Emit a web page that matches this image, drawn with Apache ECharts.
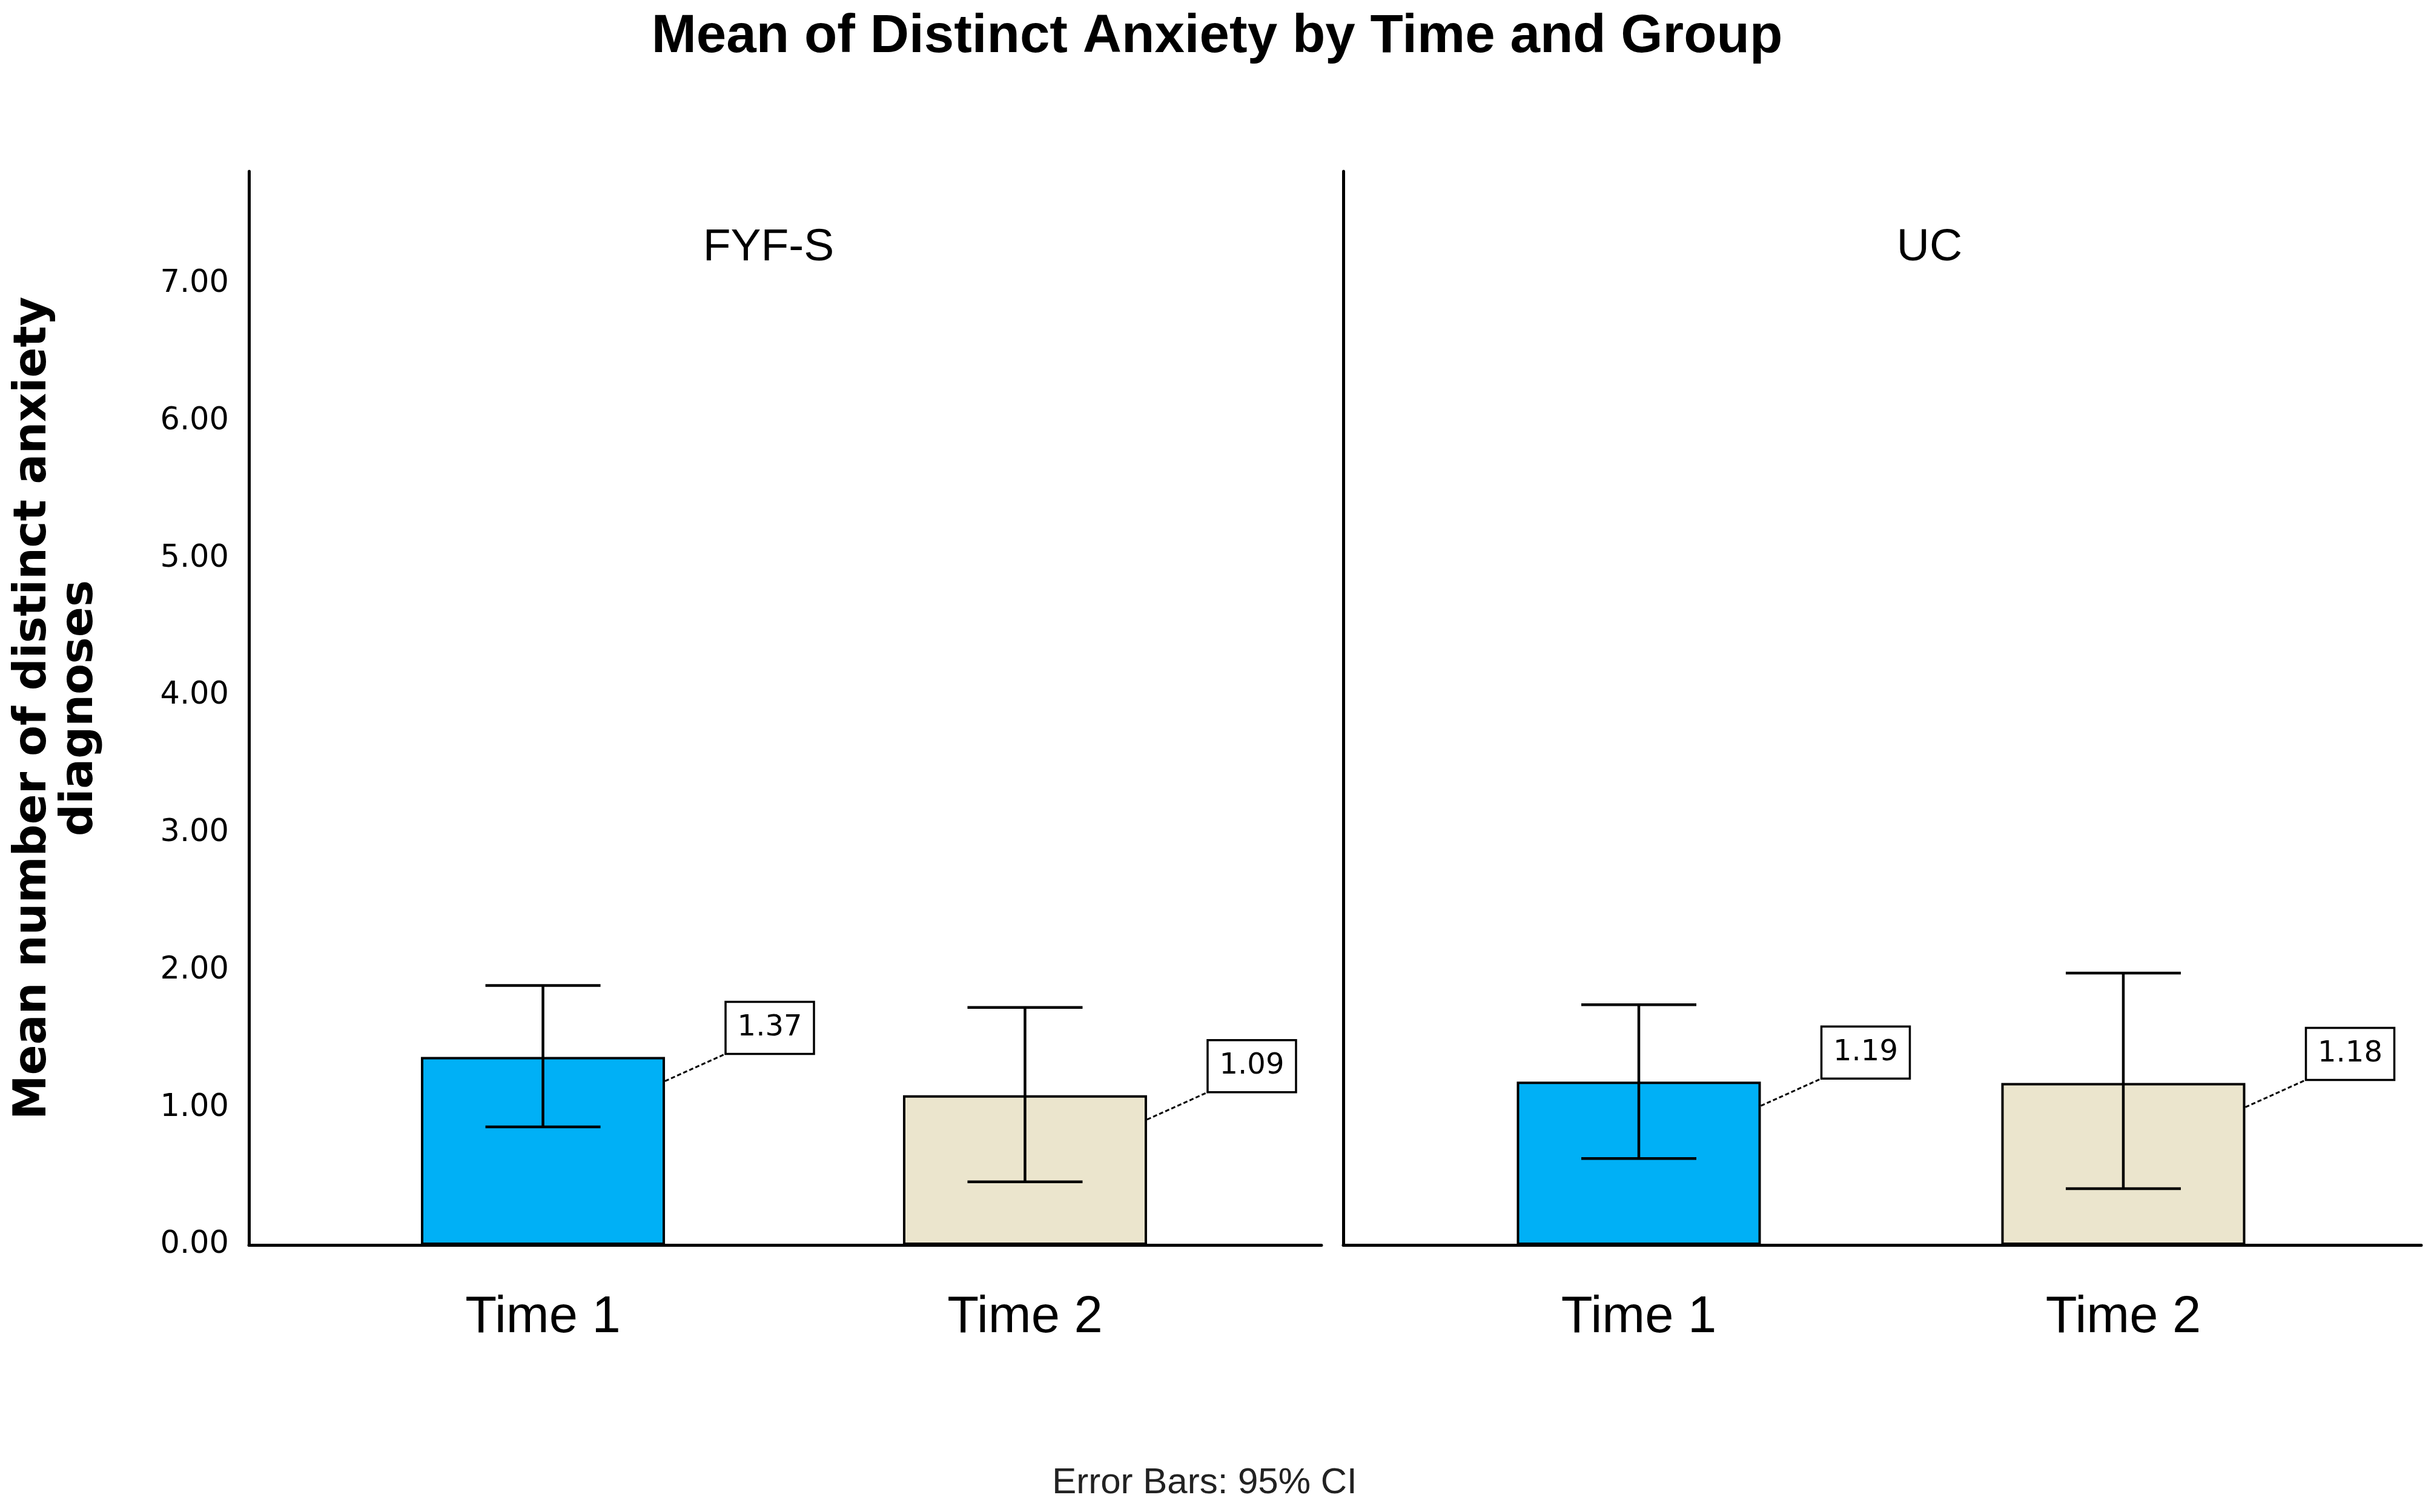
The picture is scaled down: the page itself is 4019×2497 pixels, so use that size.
<!DOCTYPE html>
<html>
<head>
<meta charset="utf-8">
<title>Mean of Distinct Anxiety by Time and Group</title>
<script src="https://cdn.jsdelivr.net/npm/echarts@6/dist/echarts.min.js"></script>
<style>
  html, body { margin: 0; padding: 0; background: #fff; }
  #chart { width: 4019px; height: 2497px; }
</style>
</head>
<body>
<div id="chart"></div>
<script>
// data
var times = ['Time 1', 'Time 2'];
var groups = ['FYF-S', 'UC'];
var fyfsMean = [1.37, 1.09];
var fyfsLow = [0.86, 0.46];
var fyfsHigh = [1.89, 1.73];
var ucMean = [1.19, 1.18];
var ucLow = [0.63, 0.41];
var ucHigh = [1.75, 1.98];
var timePos = [1, 2];

// styling
var timeColors = ['#00b0f6', '#ebe5cd'];
var BAR_W = 403;
var CAP_W = 190;
var AXIS_W = 5;

var panels = [
  { mean: fyfsMean, low: fyfsLow, high: fyfsHigh },
  { mean: ucMean, low: ucLow, high: ucHigh }
];

function renderErrorBar(params, api) {
  var x = api.value(0);
  var hi = api.coord([x, api.value(2)]);
  var lo = api.coord([x, api.value(1)]);
  var half = CAP_W / 2;
  var style = { stroke: '#000', lineWidth: 4.5 };
  return {
    type: 'group',
    children: [
      { type: 'line', shape: { x1: hi[0], y1: hi[1], x2: lo[0], y2: lo[1] }, style: style },
      { type: 'line', shape: { x1: hi[0] - half, y1: hi[1], x2: hi[0] + half, y2: hi[1] }, style: style },
      { type: 'line', shape: { x1: lo[0] - half, y1: lo[1], x2: lo[0] + half, y2: lo[1] }, style: style }
    ]
  };
}

function renderValueLabel(params, api) {
  var v = api.value(1);
  var p = api.coord([api.value(0), v]);
  var edgeX = p[0] + BAR_W / 2;
  var startY = p[1] + 40;
  var boxX = edgeX + 100;
  var boxBottom = p[1] - 5;
  var bw = 146, bh = 86;
  return {
    type: 'group',
    children: [
      {
        type: 'line',
        shape: { x1: edgeX, y1: startY, x2: boxX, y2: boxBottom },
        style: { stroke: '#000', lineWidth: 3, lineDash: [7, 4] }
      },
      {
        type: 'rect',
        shape: { x: boxX, y: boxBottom - bh, width: bw, height: bh },
        style: { fill: '#fff', stroke: '#000', lineWidth: 3.5 }
      },
      {
        type: 'text',
        x: boxX + bw / 2,
        y: boxBottom - bh / 2,
        style: {
          text: v.toFixed(2),
          align: 'center',
          verticalAlign: 'middle',
          fontSize: 48,
          fontFamily: 'DejaVu Sans',
          fill: '#000'
        }
      }
    ]
  };
}

var grids = [
  { left: 411, top: 283, width: 1771, height: 1773 },
  { left: 2218, top: 283, width: 1780, height: 1773 }
];

var xAxes = [], yAxes = [], series = [];

groups.forEach(function (g, i) {
  var pn = panels[i];

  xAxes.push({
    type: 'value',
    gridIndex: i,
    min: 0.39,
    max: 2.615,
    axisLine: { show: true, onZero: false, lineStyle: { color: '#000', width: AXIS_W } },
    axisTick: { show: false },
    splitLine: { show: false },
    axisLabel: {
      customValues: timePos,
      formatter: function (v) { return times[Math.round(v) - 1] || ''; },
      fontSize: 85,
      lineHeight: 85,
      fontFamily: 'Liberation Sans',
      color: '#000',
      margin: 78
    }
  });

  yAxes.push({
    type: 'value',
    gridIndex: i,
    min: 0,
    max: 7.82,
    interval: 1,
    axisLine: { show: true, onZero: false, lineStyle: { color: '#000', width: AXIS_W } },
    axisTick: { show: false },
    splitLine: { show: false },
    axisLabel: {
      show: i === 0,
      showMaxLabel: false,
      formatter: function (v) { return v.toFixed(2); },
      fontSize: 51,
      fontFamily: 'DejaVu Sans',
      color: '#000',
      margin: 33
    },
    name: i === 0 ? 'Mean number of distinct anxiety\ndiagnoses' : '',
    nameLocation: 'middle',
    nameGap: 240,
    nameTextStyle: {
      fontSize: 74,
      lineHeight: 77,
      fontWeight: 'bold',
      fontFamily: 'DejaVu Sans',
      color: '#000'
    }
  });

  series.push({
    name: g,
    type: 'bar',
    xAxisIndex: i,
    yAxisIndex: i,
    barWidth: BAR_W,
    data: timePos.map(function (t, k) { return [t, pn.mean[k]]; }),
    itemStyle: {
      color: function (p) { return timeColors[p.dataIndex]; },
      borderColor: '#000',
      borderWidth: 4
    },
    silent: true,
    z: 2
  });

  series.push({
    name: g + ' CI',
    type: 'custom',
    xAxisIndex: i,
    yAxisIndex: i,
    renderItem: renderErrorBar,
    encode: { x: 0, y: [1, 2] },
    data: timePos.map(function (t, k) { return [t, pn.low[k], pn.high[k]]; }),
    silent: true,
    z: 3
  });

  series.push({
    name: g + ' labels',
    type: 'custom',
    xAxisIndex: i,
    yAxisIndex: i,
    renderItem: renderValueLabel,
    encode: { x: 0, y: 1 },
    data: timePos.map(function (t, k) { return [t, pn.mean[k]]; }),
    silent: true,
    z: 4
  });
});

var chart = echarts.init(document.getElementById('chart'));
chart.setOption({
  backgroundColor: '#fff',
  animation: false,
  title: [
    {
      text: 'Mean of Distinct Anxiety by Time and Group',
      left: 'center',
      top: 17,
      padding: 0,
      textStyle: { fontFamily: 'Liberation Sans', fontWeight: 'bold', fontSize: 89, lineHeight: 89, color: '#000' }
    },
    {
      text: groups[0],
      left: 1269,
      top: 372,
      textAlign: 'center',
      padding: 0,
      textStyle: { fontFamily: 'Liberation Sans', fontWeight: 'normal', fontSize: 75, lineHeight: 75, color: '#000' }
    },
    {
      text: groups[1],
      left: 3186,
      top: 372,
      textAlign: 'center',
      padding: 0,
      textStyle: { fontFamily: 'Liberation Sans', fontWeight: 'normal', fontSize: 75, lineHeight: 75, color: '#000' }
    },
    {
      text: 'Error Bars: 95% CI',
      left: 1989,
      top: 2419,
      textAlign: 'center',
      padding: 0,
      textStyle: { fontFamily: 'Liberation Sans', fontWeight: 'normal', fontSize: 60, lineHeight: 60, color: '#222' }
    }
  ],
  grid: grids,
  xAxis: xAxes,
  yAxis: yAxes,
  series: series
});
</script>
</body>
</html>
